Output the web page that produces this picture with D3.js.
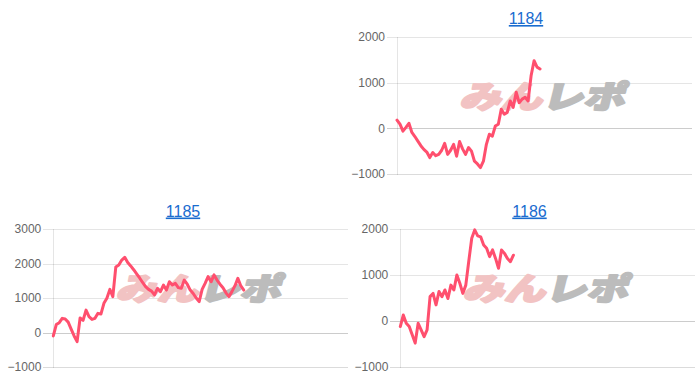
<!DOCTYPE html>
<html>
<head>
<meta charset="utf-8">
<script src="https://cdn.jsdelivr.net/npm/d3@7"></script>
<style>
	html, body { margin: 0; padding: 0; background: #fff; }
	svg { display: block; }
</style>
</head>
<body>
<div id="chart"></div>
<script>
// --- data ---
const titles = ['1184', '1185', '1186'];
const slotCount = 100; // shared x slots, data only fills the first part

const values1184 = [180, 90, -60, 20, 110, -90, -180, -280, -380, -460, -520, -640, -530, -600, -570,
	-480, -330, -570, -480, -350, -610, -290, -450, -570, -420, -500, -720, -780, -860, -720, -350,
	-130, -170, 50, 90, 420, 310, 350, 600, 460, 790, 560, 640, 680, 600, 1150, 1480, 1340, 1300];

const values1185 = [-100, 230, 285, 410, 390, 300, 100, -100, -265, 420, 350, 650, 460, 380, 410, 555,
	535, 845, 990, 1250, 1040, 1900, 1955, 2100, 2180, 2030, 1930, 1820, 1700, 1580, 1450, 1330, 1250,
	1200, 1090, 1280, 1185, 1375, 1230, 1470, 1375, 1425, 1300, 1280, 1520, 1400, 1230, 1130, 1000, 895,
	1250, 1425, 1620, 1470, 1670, 1520, 1400, 1300, 1150, 1040, 1185, 1350, 1570, 1350, 1230];

const values1186 = [-120, 130, -50, -120, -300, -480, -50, -195, -340, -195, 530, 600, 350, 640, 530,
	675, 490, 780, 675, 1000, 820, 600, 780, 1300, 1800, 1980, 1850, 1830, 1650, 1580, 1400, 1545, 1360,
	1145, 1545, 1470, 1360, 1290, 1430];

const ticks1184 = [-1000, 0, 1000, 2000];
const ticks1185 = [-1000, 0, 1000, 2000, 3000];
const ticks1186 = [-1000, 0, 1000, 2000];

// --- layout ---
const width = 700;
const height = 382;

const panels = [
	{ title: titles[0], values: values1184, ticks: ticks1184, left: 397, right: 692, top: 37, bottom: 174, titleX: 526, titleY: 24 },
	{ title: titles[1], values: values1185, ticks: ticks1185, left: 53.3, right: 348, top: 229, bottom: 367, titleX: 183, titleY: 216.5 },
	{ title: titles[2], values: values1186, ticks: ticks1186, left: 400.3, right: 695, top: 229, bottom: 367, titleX: 529.5, titleY: 216.5 },
];

const svg = d3.select('#chart').append('svg')
		.attr('width', width)
		.attr('height', height);

panels.forEach((p) => {
	const g = svg.append('g');
	const yExtent = d3.extent(p.ticks);
	const xScale = d3.scaleLinear()
			.domain([0, slotCount - 1])
			.range([p.left, p.right]);
	const yScale = d3.scaleLinear()
			.domain(yExtent)
			.range([p.bottom, p.top]);

	// title link
	g.append('text')
			.attr('x', p.titleX)
			.attr('y', p.titleY)
			.attr('text-anchor', 'middle')
			.style('font-family', '"Liberation Sans", Arial, sans-serif')
			.style('font-size', '16px')
			.style('fill', '#1a6ccf')
			.style('text-decoration', 'underline')
			.text(p.title);

	// y axis with gridlines
	const yAxis = d3.axisLeft(yScale)
			.tickValues(p.ticks)
			.tickSize(-(p.right - p.left + 10))
			.tickPadding(2)
			.tickFormat(d3.format('d'));

	const axisG = g.append('g')
			.attr('transform', `translate(${p.left - 10}, 0)`)
			.call(yAxis);
	axisG.select('.domain').remove();
	axisG.selectAll('.tick line')
			.attr('x1', 0)
			.attr('x2', p.right - p.left + 10)
			.style('stroke', (d) => d === 0 ? 'rgba(0,0,0,0.2)' : (d === yExtent[0] ? 'rgba(0,0,0,0.14)' : 'rgba(0,0,0,0.1)'))
			.style('stroke-width', 1)
			.attr('shape-rendering', 'crispEdges');
	axisG.selectAll('.tick text')
			.attr('x', -2)
			.style('font-family', '"Liberation Sans", Arial, sans-serif')
			.style('font-size', '12px')
			.style('fill', '#666');

	// left axis line
	g.append('line')
			.attr('x1', xScale(0))
			.attr('x2', xScale(0))
			.attr('y1', yScale(yExtent[1]))
			.attr('y2', yScale(yExtent[0]) + 1)
			.style('stroke', 'rgba(0,0,0,0.1)')
			.attr('shape-rendering', 'crispEdges');

	// watermark
	const cx = (p.left + p.right) / 2;
	const cy = (p.top + p.bottom) / 2 - 10;
	const wm = g.append('text')
			.attr('transform', `translate(${cx}, ${cy}) skewX(-14)`)
			.attr('x', -82)
			.attr('y', 12)
			.attr('textLength', 165)
			.attr('lengthAdjust', 'spacingAndGlyphs')
			.style('font-family', '"Noto Sans CJK JP", sans-serif')
			.style('font-weight', 900)
			.style('font-size', '31px')
			.style('stroke-width', 2.2)
			.style('stroke-linejoin', 'round');
	wm.append('tspan')
			.style('fill', '#f2c3c3')
			.style('stroke', '#f2c3c3')
			.text('みん');
	wm.append('tspan')
			.style('fill', '#bcbcbc')
			.style('stroke', '#bcbcbc')
			.text('レポ');

	// series line
	const line = d3.line()
			.x((d, i) => xScale(i))
			.y((d) => yScale(d));

	g.append('path')
			.datum(p.values)
			.attr('d', line)
			.style('fill', 'none')
			.style('stroke', '#ff4f6e')
			.style('stroke-width', 3)
			.style('stroke-linejoin', 'round')
			.style('stroke-linecap', 'round');
});
</script>
</body>
</html>
